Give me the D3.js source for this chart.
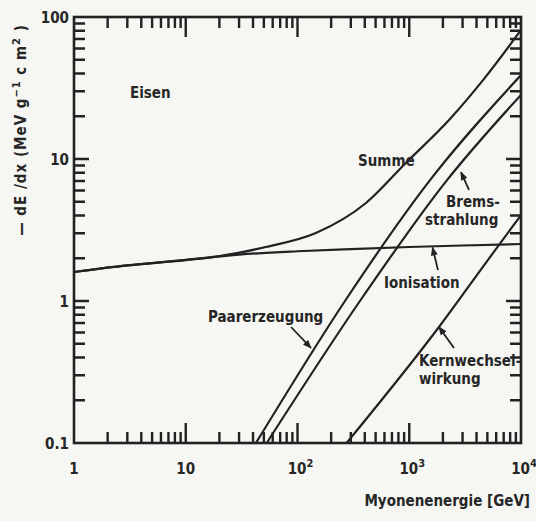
<!DOCTYPE html>
<html>
<head>
<meta charset="utf-8">
<script src="https://cdn.jsdelivr.net/npm/d3@7"></script>
<style>
  html, body { margin: 0; padding: 0; background: #f6f6f3; }
  svg { display: block; }
  text { font-family: "DejaVu Sans Condensed", "DejaVu Sans", sans-serif; font-weight: bold; fill: #262626; }
</style>
</head>
<body>
<svg id="chart" width="536" height="521"></svg>
<script>
// Energy loss of muons in iron: -dE/dx versus muon energy (log-log)

// Ionisation loss
const ionE   = [1, 3, 10, 30, 100, 300, 1000, 3000, 10000];
const ionV   = [1.6, 1.78, 1.94, 2.12, 2.24, 2.32, 2.4, 2.46, 2.52];

// Pair production (Paarerzeugung)
const pairE  = [42.5, 266, 1534, 10000];
const pairV  = [0.1, 1.0, 7.1, 39];

// Bremsstrahlung
const bremsE = [53, 362, 2178, 10000];
const bremsV = [0.1, 1.0, 7.1, 28.3];

// Nuclear interaction (Kernwechselwirkung)
const nuclE  = [275, 1845, 5070, 10000];
const nuclV  = [0.1, 0.656, 1.95, 4.03];

// Total (Summe)
const sumE   = [1, 3, 10, 20, 52, 146, 410, 935, 2270, 4570, 10000];
const sumV   = [1.6, 1.78, 1.95, 2.07, 2.40, 3.01, 4.9, 9.4, 18.8, 35.9, 81];

// Axis ticks and tick labels
const xMinorTicks = [2, 3, 4, 5, 6, 7, 8, 9, 20, 30, 40, 50, 60, 70, 80, 90,
                     200, 300, 400, 500, 600, 700, 800, 900, 2000, 3000, 4000, 5000, 6000, 7000, 8000, 9000];
const xMajorTicks = [10, 100, 1000];
const yMinorTicks = [0.2, 0.3, 0.4, 0.5, 0.6, 0.7, 0.8, 0.9, 2, 3, 4, 5, 6, 7, 8, 9, 20, 30, 40, 50, 60, 70, 80, 90];
const yMajorTicks = [1, 10];
const xTickVals  = [1, 10, 100, 1000, 10000];
const xTickBase  = ["1", "10", "10", "10", "10"];
const xTickSup   = ["", "", "2", "3", "4"];
const yTickVals  = [0.1, 1, 10, 100];
const yTickText  = ["0.1", "1", "10", "100"];

const svg = d3.select("#chart");
const ink = "#222";
const tickInk = "rgb(34,34,34)";

const x = d3.scaleLog().domain([1, 1e4]).range([74, 521]);
const y = d3.scaleLog().domain([0.1, 100]).range([443, 17]);
const yB = y(0.1), yT = y(100), xL = x(1), xR = x(1e4);

// inward ticks on all four edges
const tp = d3.path();
xMinorTicks.forEach(v => { tp.moveTo(x(v), yB); tp.lineTo(x(v), yB - 11); tp.moveTo(x(v), yT); tp.lineTo(x(v), yT + 11); });
xMajorTicks.forEach(v => { tp.moveTo(x(v), yB); tp.lineTo(x(v), yB - 20); tp.moveTo(x(v), yT); tp.lineTo(x(v), yT + 20); });
yMinorTicks.forEach(v => { tp.moveTo(xL, y(v)); tp.lineTo(xL + 11, y(v)); tp.moveTo(xR, y(v)); tp.lineTo(xR - 11, y(v)); });
yMajorTicks.forEach(v => { tp.moveTo(xL, y(v)); tp.lineTo(xL + 15, y(v)); tp.moveTo(xR, y(v)); tp.lineTo(xR - 15, y(v)); });
svg.append("path").attr("d", tp.toString())
  .attr("fill", "none").attr("stroke", tickInk).attr("stroke-width", 2.4);

// frame
svg.append("rect")
  .attr("x", xL).attr("y", yT)
  .attr("width", xR - xL).attr("height", yB - yT)
  .attr("fill", "none").attr("stroke", ink).attr("stroke-width", 2.6);

// tick labels
const xLab = svg.append("g").attr("font-size", 15).attr("text-anchor", "middle");
xTickVals.forEach((v, i) => {
  const t = xLab.append("text").attr("x", x(v) + (xTickSup[i] ? 3 : 0)).attr("y", 474);
  t.append("tspan").text(xTickBase[i]);
  if (xTickSup[i]) t.append("tspan").attr("dy", -7).attr("font-size", 11).text(xTickSup[i]);
});
const yLab = svg.append("g").attr("font-size", 15).attr("text-anchor", "end");
yTickVals.forEach((v, i) => {
  yLab.append("text").attr("x", 69).attr("y", y(v) + 6).text(yTickText[i]);
});

// axis titles
svg.append("text").attr("x", 530).attr("y", 506).attr("text-anchor", "end")
  .attr("font-size", 15).text("Myonenenergie [GeV]");

const yt = svg.append("text").attr("transform", "translate(26,130) rotate(-90)")
  .attr("text-anchor", "middle").attr("font-size", 15).attr("letter-spacing", 1);
yt.append("tspan").text("\u2014 dE /dx (MeV  g");
yt.append("tspan").attr("dy", -6).attr("font-size", 11).text("\u22121");
yt.append("tspan").attr("dy", 6).text(" c m");
yt.append("tspan").attr("dy", -6).attr("font-size", 11).text("2");
yt.append("tspan").attr("dy", 6).text(" )");

// curves
const series = [
  [ionE, ionV], [pairE, pairV], [bremsE, bremsV], [nuclE, nuclV], [sumE, sumV]
];
const line = d3.line().x(d => x(d[0])).y(d => y(d[1])).curve(d3.curveMonotoneX);
const defs = svg.append("defs");
defs.append("clipPath").attr("id", "plotclip").append("rect")
  .attr("x", xL).attr("y", yT).attr("width", xR - xL).attr("height", yB - yT);
const curves = svg.append("g").attr("clip-path", "url(#plotclip)");
series.forEach(([E, V]) => {
  curves.append("path")
    .datum(E.map((e, i) => [e, V[i]]))
    .attr("d", line)
    .attr("fill", "none").attr("stroke", ink).attr("stroke-width", 2.2)
    .attr("stroke-linejoin", "round");
});

// arrow marker
defs.append("marker")
  .attr("id", "head").attr("viewBox", "0 0 10 8")
  .attr("refX", 9).attr("refY", 4)
  .attr("markerWidth", 9).attr("markerHeight", 7)
  .attr("markerUnits", "userSpaceOnUse").attr("orient", "auto")
  .append("path").attr("d", "M0,0 L10,4 L0,8 Z").attr("fill", ink);

// labels (data-space anchors)
const labels = [
  { t: "Eisen",        e: 3.17, v: 26.9 },
  { t: "Summe",        e: 348,  v: 8.93 },
  { t: "Brems-",       e: 2133, v: 4.59 },
  { t: "strahlung",    e: 1384, v: 3.43 },
  { t: "Ionisation",   e: 594,  v: 1.23 },
  { t: "Paarerzeugung",e: 15.8, v: 0.711 },
  { t: "Kernwechsel-", e: 1222, v: 0.348 },
  { t: "wirkung",      e: 1222, v: 0.260 }
];
svg.append("g").attr("font-size", 15).selectAll("text").data(labels).join("text")
  .attr("x", d => x(d.e)).attr("y", d => y(d.v)).text(d => d.t);

// pointer arrows from labels to curves: [tailE, tailV, tipE, tipV]
const arrows = [
  [3425, 6.05, 2904, 8.09],
  [1808, 1.65, 1615, 2.38],
  [87.5, 0.656, 132, 0.467],
  [2513, 0.467, 1845, 0.656]
];
svg.append("g").selectAll("path").data(arrows).join("path")
  .attr("d", d => `M${x(d[0])},${y(d[1])}L${x(d[2])},${y(d[3])}`)
  .attr("fill", "none").attr("stroke", ink).attr("stroke-width", 1.8)
  .attr("marker-end", "url(#head)");
</script>
</body>
</html>
